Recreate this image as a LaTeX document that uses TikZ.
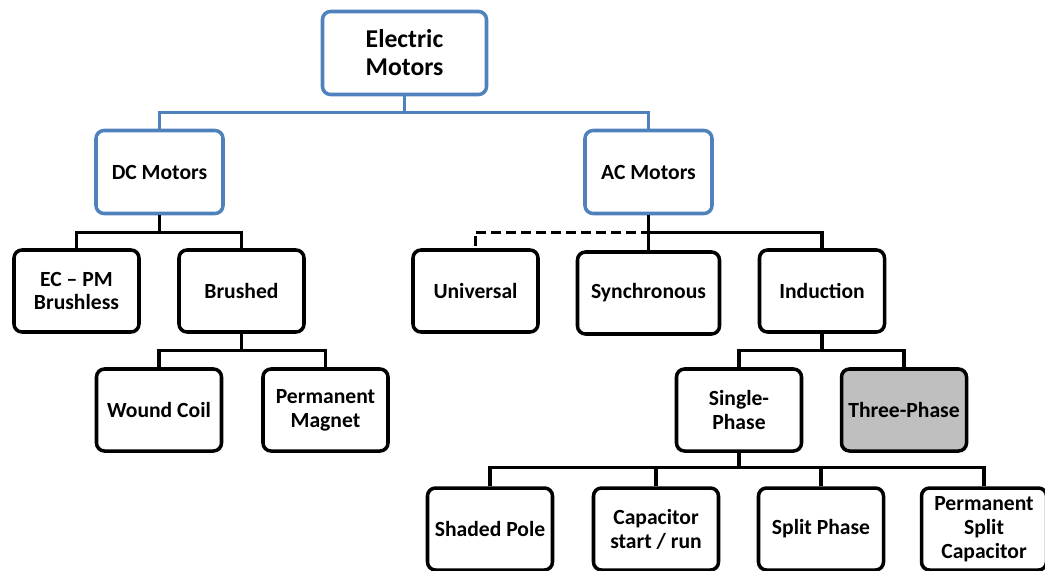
\documentclass[tikz,border=0pt]{standalone}
\usepackage{xcolor}
\usepackage{fontspec}
\setmainfont{Carlito}
\usepackage{tikz}
\usetikzlibrary{positioning}
\definecolor{officeblue}{RGB}{79,129,189}
\definecolor{phasegrey}{RGB}{191,191,191}
\tikzstyle{topbox} = [rectangle, rounded corners=0.16cm, minimum width=3.28cm, minimum height=1.66cm, align=center, draw=officeblue, line width=2pt, fill=white, font=\fontsize{14.6}{15.9}\selectfont\bfseries]
\tikzstyle{bluebox} = [rectangle, rounded corners=0.16cm, minimum width=2.54cm, minimum height=1.66cm, align=center, draw=officeblue, line width=2pt, fill=white, font=\fontsize{12.3}{13.6}\selectfont\bfseries]
\tikzstyle{process} = [rectangle, rounded corners=0.16cm, minimum width=2.5cm, minimum height=1.64cm, align=center, draw=black, line width=2pt, fill=white, font=\fontsize{12.3}{13.6}\selectfont\bfseries]
\tikzstyle{greyproc} = [process, fill=phasegrey]
\tikzstyle{link} = [line width=2pt]
\tikzstyle{bluelink} = [link, draw=officeblue]

\begin{document}
\begin{tikzpicture}[node distance=2.38cm]

	\useasboundingbox (-8.09,1.06) rectangle (12.81,-10.34);

	\node (elec) [topbox] {Electric\\Motors};
	\node (dc) [bluebox, below of=elec, xshift=-4.9cm] {DC Motors};
	\node (ac) [bluebox, below of=elec, xshift=4.88cm] {AC Motors};

	\node (ecpm) [process, below of=dc, xshift=-1.66cm] {EC -- PM\\Brushless};
	\node (brushed) [process, below of=dc, xshift=1.64cm] {Brushed};
	\node (universal) [process, below of=ac, xshift=-3.46cm] {Universal};
	\node (sync) [process, below of=ac, yshift=-0.04cm, minimum width=2.84cm] {Synchronous};
	\node (induction) [process, below of=ac, xshift=3.47cm] {Induction};

	\node (wound) [process, below of=brushed, xshift=-1.65cm] {Wound Coil};
	\node (permmag) [process, below of=brushed, xshift=1.68cm] {Permanent\\Magnet};
	\node (single) [process, below of=induction, xshift=-1.66cm] {Single-\\Phase};
	\node (three) [greyproc, below of=induction, xshift=1.64cm] {Three-Phase};

	\node (shadedpole) [process, below of=single, xshift=-4.98cm] {Shaded Pole};
	\node (capacitor) [process, below of=single, xshift=-1.66cm] {Capacitor\\start / run};
	\node (splitphase) [process, below of=single, xshift=1.64cm] {Split Phase};
	\node (psc) [process, below of=single, xshift=4.9cm] {Permanent\\Split\\Capacitor};

	\draw [bluelink] (elec.south) -- ++(0,-0.32) -| (dc.north);
	\draw [bluelink] (elec.south) -- ++(0,-0.32) -| (ac.north);

	\draw [link] (dc.south) -- ++(0,-0.34) -| (ecpm.north);
	\draw [link] (dc.south) -- ++(0,-0.34) -| (brushed.north);

	\draw [link, dash pattern=on 5.7pt off 2.8pt] (ac.south) -- ++(0,-0.34) -| (universal.north);
	\draw [link] (ac.south) -- (sync.north);
	\draw [link] (ac.south) -- ++(0,-0.34) -| (induction.north);

	\draw [link] (brushed.south) -- ++(0,-0.33) -| (wound.north);
	\draw [link] (brushed.south) -- ++(0,-0.33) -| (permmag.north);

	\draw [link] (induction.south) -- ++(0,-0.33) -| (single.north);
	\draw [link] (induction.south) -- ++(0,-0.33) -| (three.north);

	\draw [link] (single.south) -- ++(0,-0.29) -| (shadedpole.north);
	\draw [link] (single.south) -- ++(0,-0.29) -| (capacitor.north);
	\draw [link] (single.south) -- ++(0,-0.29) -| (splitphase.north);
	\draw [link] (single.south) -- ++(0,-0.29) -| (psc.north);

\end{tikzpicture}
\end{document}
